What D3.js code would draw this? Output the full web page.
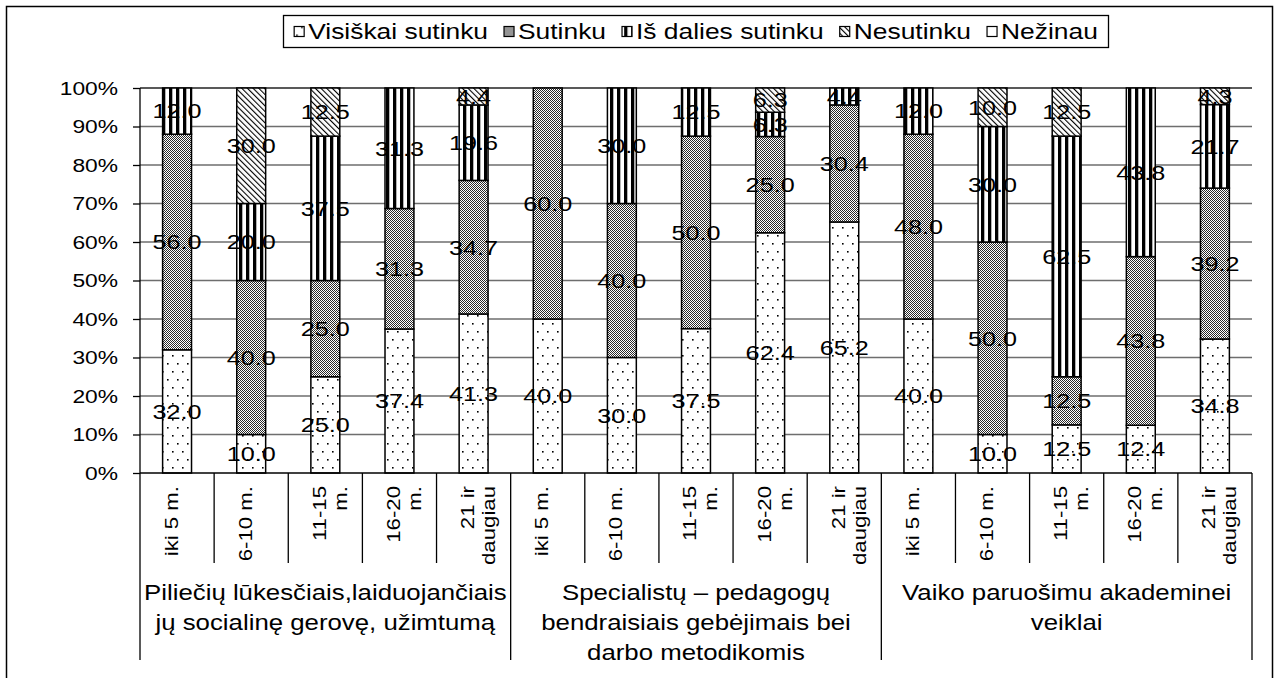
<!DOCTYPE html>
<html>
<head>
<meta charset="utf-8">
<script src="https://cdn.jsdelivr.net/npm/d3@7"></script>
<style>
	body { margin: 0; background: #fff; }
	svg { display: block; }
	text { font-family: "Liberation Sans", Arial, sans-serif; fill: #000; }
</style>
</head>
<body>
<svg id="chart" width="1275" height="678"></svg>
<script>
// categories (age of work experience) inside three question groups
var categoryLines = [["iki 5 m."], ["6-10 m."], ["11-15", "m."], ["16-20", "m."], ["21 ir", "daugiau"]];
var groupLines = [
	["Piliečių lūkesčiais,laiduojančiais", "jų socialinę gerovę, užimtumą"],
	["Specialistų – pedagogų", "bendraisiais gebėjimais bei", "darbo metodikomis"],
	["Vaiko paruošimu akademinei", "veiklai"]
];
var seriesNames = ["Visiškai sutinku", "Sutinku", "Iš dalies sutinku", "Nesutinku", "Nežinau"];

// one value per bar, 3 groups x 5 categories
var visiskai  = [32.0, 10.0, 25.0, 37.4, 41.3,  40.0, 30.0, 37.5, 62.4, 65.2,  40.0, 10.0, 12.5, 12.4, 34.8];
var sutinku   = [56.0, 40.0, 25.0, 31.3, 34.7,  60.0, 40.0, 50.0, 25.0, 30.4,  48.0, 50.0, 12.5, 43.8, 39.2];
var isDalies  = [12.0, 20.0, 37.5, 31.3, 19.6,   0.0, 30.0, 12.5,  6.3,  4.4,  12.0, 30.0, 62.5, 43.8, 21.7];
var nesutinku = [ 0.0, 30.0, 12.5,  0.0,  4.4,   0.0,  0.0,  0.0,  6.3,  0.0,   0.0, 10.0, 12.5,  0.0,  4.3];
var nezinau   = [ 0.0,  0.0,  0.0,  0.0,  0.0,   0.0,  0.0,  0.0,  0.0,  0.0,   0.0,  0.0,  0.0,  0.0,  0.0];
var yTicks = [0, 10, 20, 30, 40, 50, 60, 70, 80, 90, 100];

var SX = 1.2; // the source font runs wide
var plotLeft = 140, plotRight = 1252, plotTop = 88, plotBottom = 473;

var svg = d3.select("#chart");
var defs = svg.append("defs");

// fill patterns, one per series
var pDots = defs.append("pattern").attr("id", "p0").attr("patternUnits", "userSpaceOnUse")
	.attr("width", 10).attr("height", 16);
pDots.append("rect").attr("width", 10).attr("height", 16).attr("fill", "#fff");
pDots.append("rect").attr("x", 2).attr("y", 3).attr("width", 1.6).attr("height", 1.6).attr("fill", "#000");
pDots.append("rect").attr("x", 7).attr("y", 11).attr("width", 1.6).attr("height", 1.6).attr("fill", "#000");

var pCheck = defs.append("pattern").attr("id", "p1").attr("patternUnits", "userSpaceOnUse")
	.attr("width", 2).attr("height", 2);
pCheck.append("rect").attr("width", 2).attr("height", 2).attr("fill", "#fff");
pCheck.append("rect").attr("width", 1).attr("height", 1).attr("fill", "#2a2a2a").attr("shape-rendering", "crispEdges");
pCheck.append("rect").attr("x", 1).attr("y", 1).attr("width", 1).attr("height", 1).attr("fill", "#2a2a2a").attr("shape-rendering", "crispEdges");

var pStripe = defs.append("pattern").attr("id", "p2").attr("patternUnits", "userSpaceOnUse")
	.attr("width", 7).attr("height", 7);
pStripe.append("rect").attr("width", 7).attr("height", 7).attr("fill", "#fff");
pStripe.append("rect").attr("x", 1).attr("width", 3.3).attr("height", 7).attr("fill", "#000");

var pDiag = defs.append("pattern").attr("id", "p3").attr("patternUnits", "userSpaceOnUse")
	.attr("width", 4).attr("height", 4).attr("patternTransform", "rotate(-45)");
pDiag.append("rect").attr("width", 4).attr("height", 4).attr("fill", "#fff");
pDiag.append("rect").attr("width", 1.1).attr("height", 4).attr("fill", "#000");

var pBlank = defs.append("pattern").attr("id", "p4").attr("patternUnits", "userSpaceOnUse")
	.attr("width", 4).attr("height", 4);
pBlank.append("rect").attr("width", 4).attr("height", 4).attr("fill", "#fff");

function label(parent, x, y, str, size, anchor, rotate) {
	return parent.append("text")
		.attr("transform", "translate(" + x + "," + y + ")" + (rotate ? " rotate(-90)" : "") + " scale(" + SX + ",1)")
		.attr("text-anchor", anchor)
		.attr("dy", "0.35em")
		.style("font-size", size + "px")
		.text(str);
}

// outer frame
svg.append("rect")
	.attr("x", 6.5).attr("y", 6.5).attr("width", 1266).attr("height", 700)
	.attr("fill", "none").attr("stroke", "#000").attr("stroke-width", 1.5);

var nCat = categoryLines.length;
var rows = d3.range(visiskai.length).map(function (i) {
	return { idx: i, s0: visiskai[i], s1: sutinku[i], s2: isDalies[i], s3: nesutinku[i], s4: nezinau[i] };
});

var x = d3.scaleBand().domain(d3.range(rows.length)).range([plotLeft, plotRight]).paddingInner(0).paddingOuter(0);
var y = d3.scaleLinear().domain([0, 100]).range([plotBottom, plotTop]);
var barW = x.bandwidth() * 0.39;

// gridlines
svg.append("g").selectAll("line").data(yTicks.slice(1)).enter().append("line")
	.attr("x1", plotLeft).attr("x2", plotRight)
	.attr("y1", function (d) { return y(d); }).attr("y2", function (d) { return y(d); })
	.attr("stroke", function (d) { return d === 100 ? "#222" : "#6e6e6e"; })
	.attr("stroke-width", 1.3);

// y axis
var yAxis = d3.axisLeft(y).tickValues(yTicks).tickSize(7).tickPadding(0)
	.tickFormat(function (d) { return d + "%"; });
var yg = svg.append("g").attr("transform", "translate(" + plotLeft + ",0)").call(yAxis);
yg.select(".domain").remove();
yg.selectAll(".tick line").attr("stroke", "#000").attr("stroke-width", 1.3);
yg.selectAll(".tick text").remove();
yTicks.forEach(function (t) {
	label(svg, 118, y(t), t + "%", 19, "end");
});

// bars
var stack = d3.stack().keys(["s0", "s1", "s2", "s3", "s4"]);
var layers = stack(rows);

var layerG = svg.append("g").selectAll("g").data(layers).enter().append("g")
	.attr("fill", function (d, i) { return "url(#p" + i + ")"; });

layerG.selectAll("rect").data(function (d) { return d.filter(function (s) { return s[1] - s[0] > 0; }); })
	.enter().append("rect")
	.attr("x", function (d) { return x(d.data.idx) + (x.bandwidth() - barW) / 2; })
	.attr("width", barW)
	.attr("y", function (d) { return y(d[1]); })
	.attr("height", function (d) { return y(d[0]) - y(d[1]); })
	.attr("stroke", "#000")
	.attr("stroke-width", 1.5);

// value labels
var valG = svg.append("g");
layers.forEach(function (layer) {
	layer.forEach(function (s) {
		var v = s[1] - s[0];
		if (v <= 0) return;
		label(valG, x(s.data.idx) + x.bandwidth() / 2, y((s[0] + s[1]) / 2), v.toFixed(1), 21, "middle");
	});
});

// x axis line
svg.append("line")
	.attr("x1", plotLeft).attr("x2", plotRight).attr("y1", plotBottom).attr("y2", plotBottom)
	.attr("stroke", "#000").attr("stroke-width", 1.5);

// category separators and labels
var sepG = svg.append("g");
d3.range(rows.length + 1).forEach(function (i) {
	var sx = i < rows.length ? x(i) : plotRight;
	var isGroup = i % nCat === 0;
	sepG.append("line")
		.attr("x1", sx).attr("x2", sx)
		.attr("y1", isGroup && i === 0 ? plotTop : plotBottom)
		.attr("y2", isGroup ? 660 : 563)
		.attr("stroke", "#000").attr("stroke-width", 1.3);
});

rows.forEach(function (r) {
	var lines = categoryLines[r.idx % nCat];
	var cx = x(r.idx) + x.bandwidth() / 2;
	lines.forEach(function (ln, j) {
		label(svg, cx - 6 + j * 21, 486, ln, 18.5, "end", true);
	});
});

// group labels
groupLines.forEach(function (lines, g) {
	var gx = (x(g * nCat) + (g * nCat + nCat < rows.length ? x(g * nCat + nCat) : plotRight)) / 2;
	lines.forEach(function (ln, j) {
		label(svg, gx, 592 + j * 30, ln, 21.5, "middle");
	});
});

// legend
var legendBox = svg.append("rect")
	.attr("x", 283.5).attr("y", 15.5).attr("width", 825).attr("height", 32)
	.attr("fill", "#fff").attr("stroke", "#000").attr("stroke-width", 1.3);
var legendG = svg.append("g");
var lx = 0;
seriesNames.forEach(function (name, i) {
	legendG.append("rect")
		.attr("x", lx).attr("y", -5).attr("width", 10).attr("height", 10)
		.attr("fill", "url(#p" + i + ")").attr("stroke", "#000").attr("stroke-width", 1.2);
	var t = label(legendG, lx + 14, 0, name, 22, "start");
	lx += 14 + t.node().getComputedTextLength() * SX + 16;
});
lx -= 16;
legendG.attr("transform", "translate(" + (283.5 + (825 - lx) / 2) + ",31.5)");
</script>
</body>
</html>
